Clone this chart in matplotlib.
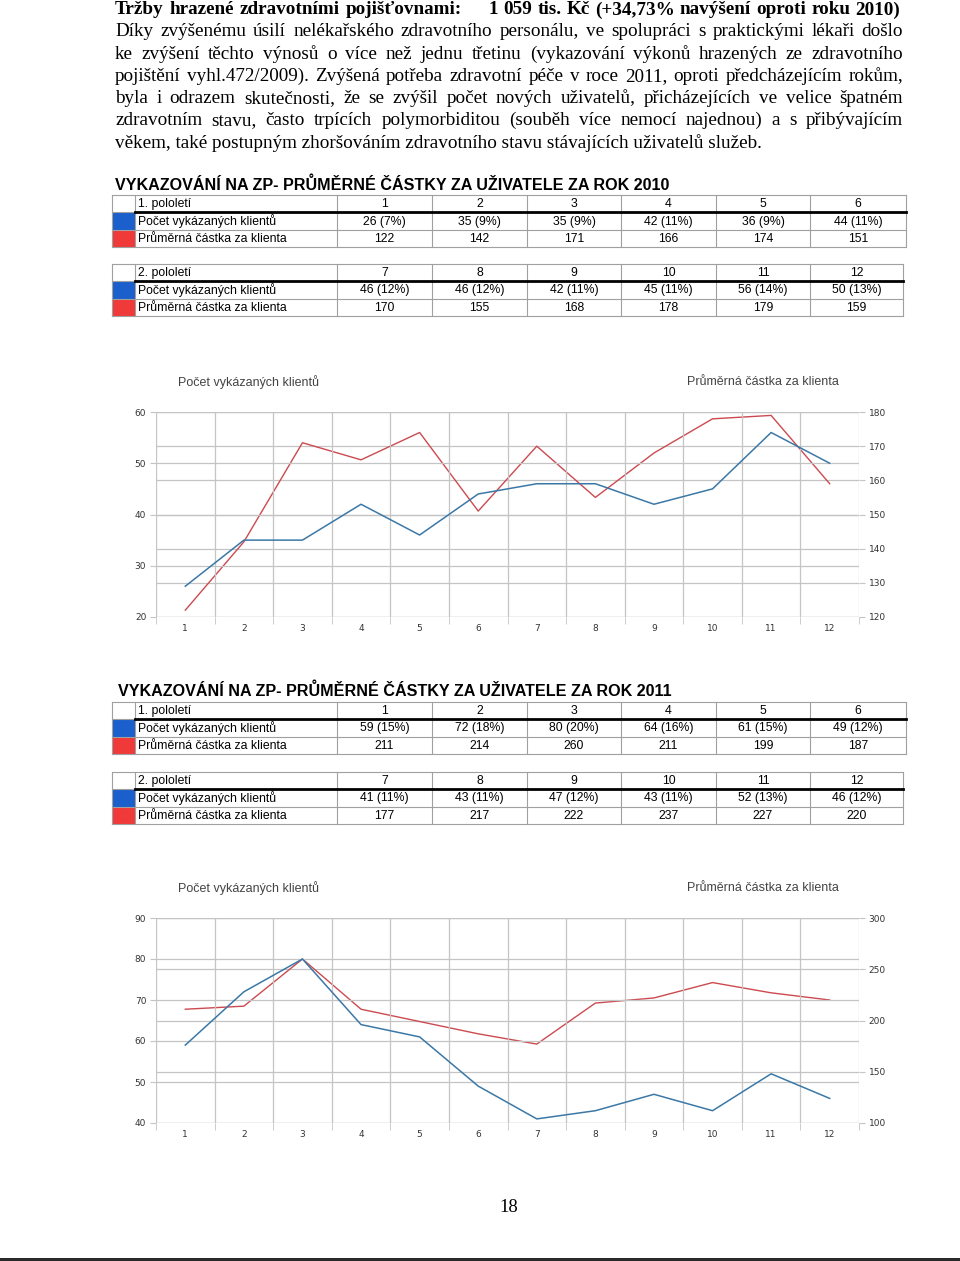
import matplotlib
matplotlib.use('Agg')
import matplotlib.pyplot as plt
from matplotlib import font_manager
from matplotlib.patches import Rectangle
import numpy as np

# data read from the page
months = [1, 2, 3, 4, 5, 6, 7, 8, 9, 10, 11, 12]
klienti_2010 = [26, 35, 35, 42, 36, 44, 46, 46, 42, 45, 56, 50]
podil_2010 = [7, 9, 9, 11, 9, 11, 12, 12, 11, 11, 14, 13]
castka_2010 = [122, 142, 171, 166, 174, 151, 170, 155, 168, 178, 179, 159]
klienti_2011 = [59, 72, 80, 64, 61, 49, 41, 43, 47, 43, 52, 46]
podil_2011 = [15, 18, 20, 16, 15, 12, 11, 11, 12, 11, 13, 12]
castka_2011 = [211, 214, 260, 211, 199, 187, 177, 217, 222, 237, 227, 220]

heading_left = 'Tržby hrazené zdravotními pojišťovnami:'
heading_right = '1 059 tis. Kč (+34,73% navýšení oproti roku 2010)'
paragraph = [
    'Díky zvýšenému úsilí nelékařského zdravotního personálu, ve spolupráci s praktickými lékaři došlo',
    'ke zvýšení těchto výnosů o více než jednu třetinu (vykazování výkonů hrazených ze zdravotního',
    'pojištění vyhl.472/2009). Zvýšená potřeba zdravotní péče v roce 2011, oproti předcházejícím rokům,',
    'byla i odrazem skutečnosti, že se zvýšil počet nových uživatelů, přicházejících ve velice špatném',
    'zdravotním stavu, často trpících polymorbiditou (souběh více nemocí najednou) a s přibývajícím',
    'věkem, také postupným zhoršováním zdravotního stavu stávajících uživatelů služeb.',
]
row_labels = ['Počet vykázaných klientů', 'Průměrná částka za klienta']
series_left = 'Počet vykázaných klientů'
series_right = 'Průměrná částka za klienta'

installed = {f.name for f in font_manager.fontManager.ttflist}
narrow = 'Liberation Sans Narrow' if 'Liberation Sans Narrow' in installed else 'Liberation Sans'
serif = 'Liberation Serif'
TFS = 9.5 if narrow == 'Liberation Sans Narrow' else 8.8

BLUE_SW = '#1a5fcc'
RED_SW = '#f03a3a'
BLUE_LN = '#3b78a6'
RED_LN = '#cc4a4f'
GRID = '#c4c4c4'

fig = plt.figure(figsize=(9.6, 12.61), dpi=100)
bg = fig.add_axes([0, 0, 1, 1])
bg.set_xlim(0, 960)
bg.set_ylim(1261, 0)
bg.axis('off')
renderer = fig.canvas.get_renderer()


def justify(text, y, x0, x1, **kw):
    words = text.split()
    items = [bg.text(0, y, w, va='center', ha='left', **kw) for w in words]
    widths = [t.get_window_extent(renderer).width for t in items]
    gap = (x1 - x0 - sum(widths)) / max(len(words) - 1, 1)
    x = x0
    for t, w in zip(items, widths):
        t.set_x(x)
        x += w + gap


# heading + paragraph
justify(heading_left, 10, 115, 462, fontsize=13.8, family=serif, weight='bold')
justify(heading_right, 10, 489, 900, fontsize=13.8, family=serif, weight='bold')
for i, line in enumerate(paragraph):
    y = 32 + i * 22.2
    if i < len(paragraph) - 1:
        justify(line, y, 115, 903, fontsize=13.8, family=serif)
    else:
        bg.text(115, y, line, va='center', fontsize=13.8, family=serif)


def table(top, half, klienti, podil, castka, right=904):
    cols = [112, 135, 337, 432, 527, 621, 716, 810, right]
    rows = [top, top + 17, top + 35, top + 52]
    idx = range(0, 6) if half == 1 else range(6, 12)
    bg.add_patch(Rectangle((cols[0], rows[1]), cols[1] - cols[0], rows[2] - rows[1],
                           color=BLUE_SW, lw=0))
    bg.add_patch(Rectangle((cols[0], rows[2]), cols[1] - cols[0], rows[3] - rows[2],
                           color=RED_SW, lw=0))
    for r in rows:
        bg.plot([cols[0], cols[-1]], [r, r], color='#a0a0a0', lw=0.8)
    for c in cols:
        bg.plot([c, c], [rows[0], rows[-1]], color='#a0a0a0', lw=0.8)
    bg.plot([cols[1], cols[-1]], [rows[1], rows[1]], color='black', lw=2)
    mid = [(rows[k] + rows[k + 1]) / 2 + 0.5 for k in range(3)]
    bg.text(cols[1] + 3, mid[0], f'{half}. pololetí', va='center', fontsize=TFS, family=narrow)
    bg.text(cols[1] + 3, mid[1], row_labels[0], va='center', fontsize=TFS, family=narrow)
    bg.text(cols[1] + 3, mid[2], row_labels[1], va='center', fontsize=TFS, family=narrow)
    for j, m in enumerate(idx):
        xc = (cols[j + 2] + cols[j + 3]) / 2
        bg.text(xc, mid[0], str(months[m]), ha='center', va='center',
                fontsize=TFS, family=narrow)
        bg.text(xc, mid[1], f'{klienti[m]} ({podil[m]}%)', ha='center',
                va='center', fontsize=TFS, family=narrow)
        bg.text(xc, mid[2], str(castka[m]), ha='center', va='center',
                fontsize=TFS, family=narrow)


bg.text(115, 185, 'VYKAZOVÁNÍ NA ZP- PRŮMĚRNÉ ČÁSTKY ZA UŽIVATELE ZA ROK 2010',
        va='center', fontsize=11.6, family=narrow, weight='bold')
table(195, 1, klienti_2010, podil_2010, castka_2010, right=906)
table(264, 2, klienti_2010, podil_2010, castka_2010, right=903)

bg.text(118, 691, 'VYKAZOVÁNÍ NA ZP- PRŮMĚRNÉ ČÁSTKY ZA UŽIVATELE ZA ROK 2011',
        va='center', fontsize=11.6, family=narrow, weight='bold')
table(702, 1, klienti_2011, podil_2011, castka_2011, right=906)
table(772, 2, klienti_2011, podil_2011, castka_2011, right=903)


def chart(top, klienti, castka, lticks, rticks):
    x0, x1, h = 156, 859, 205
    ax = fig.add_axes([x0 / 960, 1 - (top + h) / 1261, (x1 - x0) / 960, h / 1261])
    ax2 = ax.twinx()
    ax.set_zorder(ax2.get_zorder() + 1)
    ax.patch.set_visible(False)
    ax2.plot(months, castka, color=RED_LN, lw=1)
    ax.plot(months, klienti, color=BLUE_LN, lw=1.1)
    ax.set_xlim(0.5, 12.5)
    ax.set_ylim(lticks[0], lticks[-1])
    ax2.set_ylim(rticks[0], rticks[-1])
    ax.set_yticks(lticks)
    ax2.set_yticks(rticks)
    ax.set_xticks(months)
    ax.set_xticks(np.arange(0.5, 13, 1), minor=True)
    for a in (ax, ax2):
        for s in a.spines.values():
            s.set_visible(False)
    ax2.grid(axis='y', color=GRID, lw=0.9)
    ax2.set_axisbelow(True)
    ax.grid(axis='y', color=GRID, lw=0.9)
    ax.grid(axis='x', which='minor', color=GRID, lw=0.9)
    ax.tick_params(axis='x', which='major', length=0, pad=5, labelsize=6.5, labelcolor='#333')
    ax.tick_params(axis='x', which='minor', length=5, color=GRID)
    ax.tick_params(axis='y', length=4, color=GRID, pad=3, labelsize=6.5, labelcolor='#333')
    ax2.tick_params(axis='y', length=4, color=GRID, pad=3, labelsize=6.5, labelcolor='#333')
    bg.text(178, top - 30, series_left, va='center', fontsize=9, family='Liberation Sans',
            color='#444')
    bg.text(687, top - 30, series_right, va='center', fontsize=9, family='Liberation Sans',
            color='#444')


chart(412, klienti_2010, castka_2010, [20, 30, 40, 50, 60], [120, 130, 140, 150, 160, 170, 180])
chart(918, klienti_2011, castka_2011, [40, 50, 60, 70, 80, 90], [100, 150, 200, 250, 300])

bg.text(509, 1208, '18', ha='center', va='center', fontsize=13.5, family=serif)
bg.add_patch(Rectangle((0, 1258), 960, 3, color='#2a2a2a', lw=0))

fig.savefig('out.png', dpi=100)
